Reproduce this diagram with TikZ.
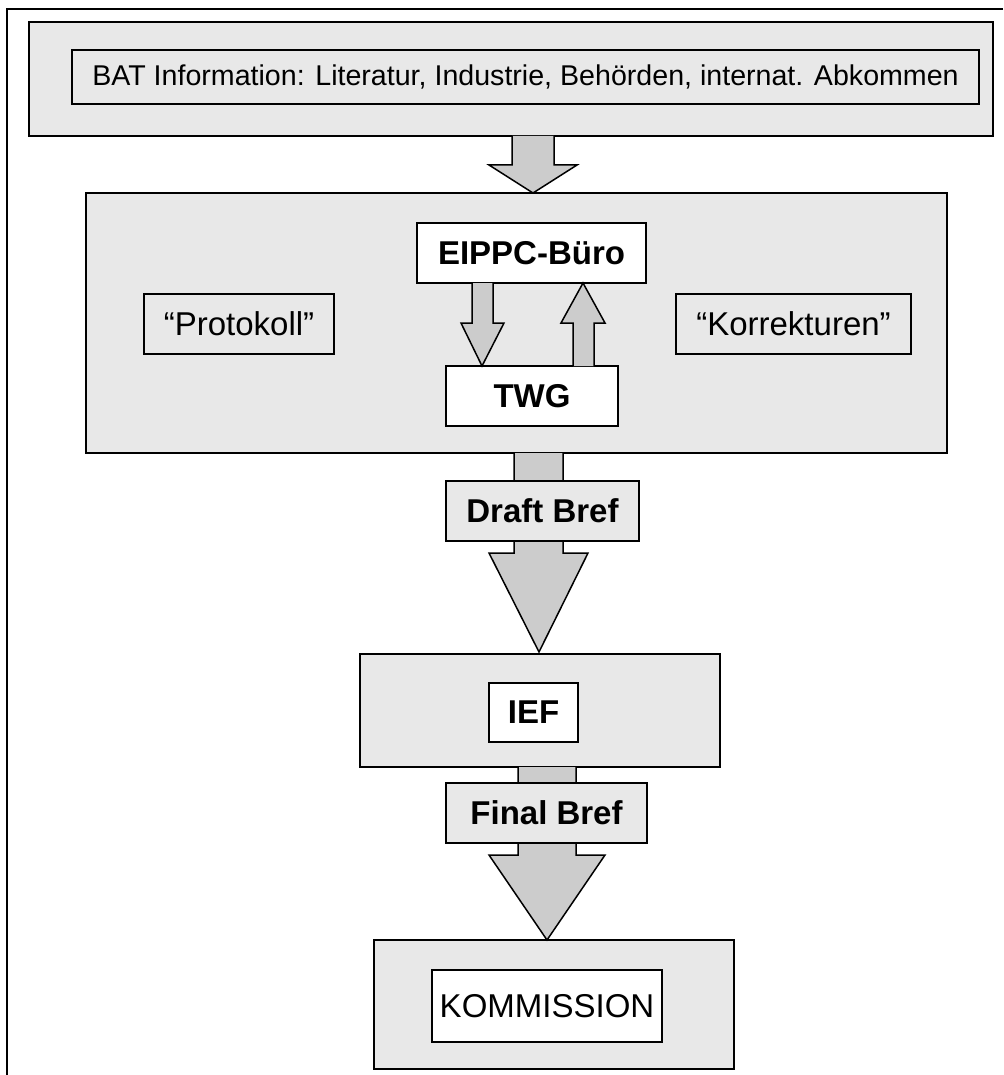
\documentclass[tikz,border=0pt]{standalone}
\usepackage{fontspec}
\setmainfont{Liberation Sans}
\definecolor{boxgray}{RGB}{232,232,232}
\definecolor{arrowgray}{RGB}{204,204,204}
\begin{document}
\begin{tikzpicture}[x=1pt,y=-1pt,
  bigbox/.style={draw=black,line width=2pt,fill=boxgray,rectangle,inner sep=0pt},
  greybox/.style={draw=black,line width=1.5pt,fill=boxgray,rectangle,inner sep=0pt},
  whitebox/.style={draw=black,line width=1.5pt,fill=white,rectangle,inner sep=0pt},
  blockarrow/.style={draw=black,line width=1.5pt,fill=arrowgray,line join=miter},
  reg/.style={font=\fontsize{33}{40}\selectfont},
  bld/.style={font=\fontsize{33}{40}\selectfont\bfseries},
  sz/.style 2 args={minimum width=#1,minimum height=#2}]
\useasboundingbox (0,0) rectangle (1003,1075);
\fill[white] (0,0) rectangle (1003,1075);
% outer frame (only top and left visible)
\coordinate (ftr) at (1003,9);
\coordinate (ftl) at (7,9);
\coordinate (fbl) at (7,1075);
\draw[line width=2pt] (ftr) -- (ftl) -- (fbl);

% big boxes
\node[bigbox,sz={964}{114}] (b1) at (511,79) {};
\node[greybox,sz={907}{54},font=\fontsize{28.6}{34}\selectfont] (bat) at (525.5,77) {BAT Information: Literatur, Industrie, Behörden, internat. Abkommen};

\node[bigbox,sz={861}{260}] (b2) at (516.5,323) {};
\node[whitebox,sz={229}{60},bld] (eippc) at (531.5,253) {EIPPC-Büro};
\node[whitebox,sz={172}{60},bld] (twg) at (532,396) {TWG};
\node[greybox,sz={190}{60},reg] (prot) at (239,324) {“Protokoll”};
\node[greybox,sz={235}{60},reg] (korr) at (793.5,324) {“Korrekturen”};

\node[bigbox,sz={360}{113}] (b3) at (540,710.5) {};
\node[whitebox,sz={89}{59},bld] (ief) at (533.5,712.5) {IEF};

\node[bigbox,sz={360}{129}] (b4) at (554,1004.5) {};
\node[whitebox,sz={230}{72},reg] (komm) at (547,1006) {KOMMISSION};

% arrow b1 -> b2
\draw[blockarrow] (512,136) -- (512,165) -- (489,165) -- (533,193) -- (577,165) -- (554,165) -- (554,136);
% arrow eippc -> twg
\draw[blockarrow] (472,283) -- (472,323) -- (461,323) -- (482,366) -- (504,323) -- (493,323) -- (493,283);
% arrow twg -> eippc
\draw[blockarrow] (573,366) -- (573,323) -- (561,323) -- (583,283) -- (605,323) -- (594,323) -- (594,366);
% arrow b2 -> b3 (Draft Bref)
\draw[blockarrow] (514,453) -- (514,553) -- (489,553) -- (539,652) -- (588,553) -- (563,553) -- (563,453);
\node[greybox,sz={193}{60},bld] (draft) at (542.5,511) {Draft Bref};
% arrow b3 -> b4 (Final Bref)
\draw[blockarrow] (518,767) -- (518,855) -- (489,855) -- (547,940) -- (605,855) -- (576,855) -- (576,767);
\node[greybox,sz={201}{60},bld] (final) at (546.5,813) {Final Bref};
\end{tikzpicture}
\end{document}
